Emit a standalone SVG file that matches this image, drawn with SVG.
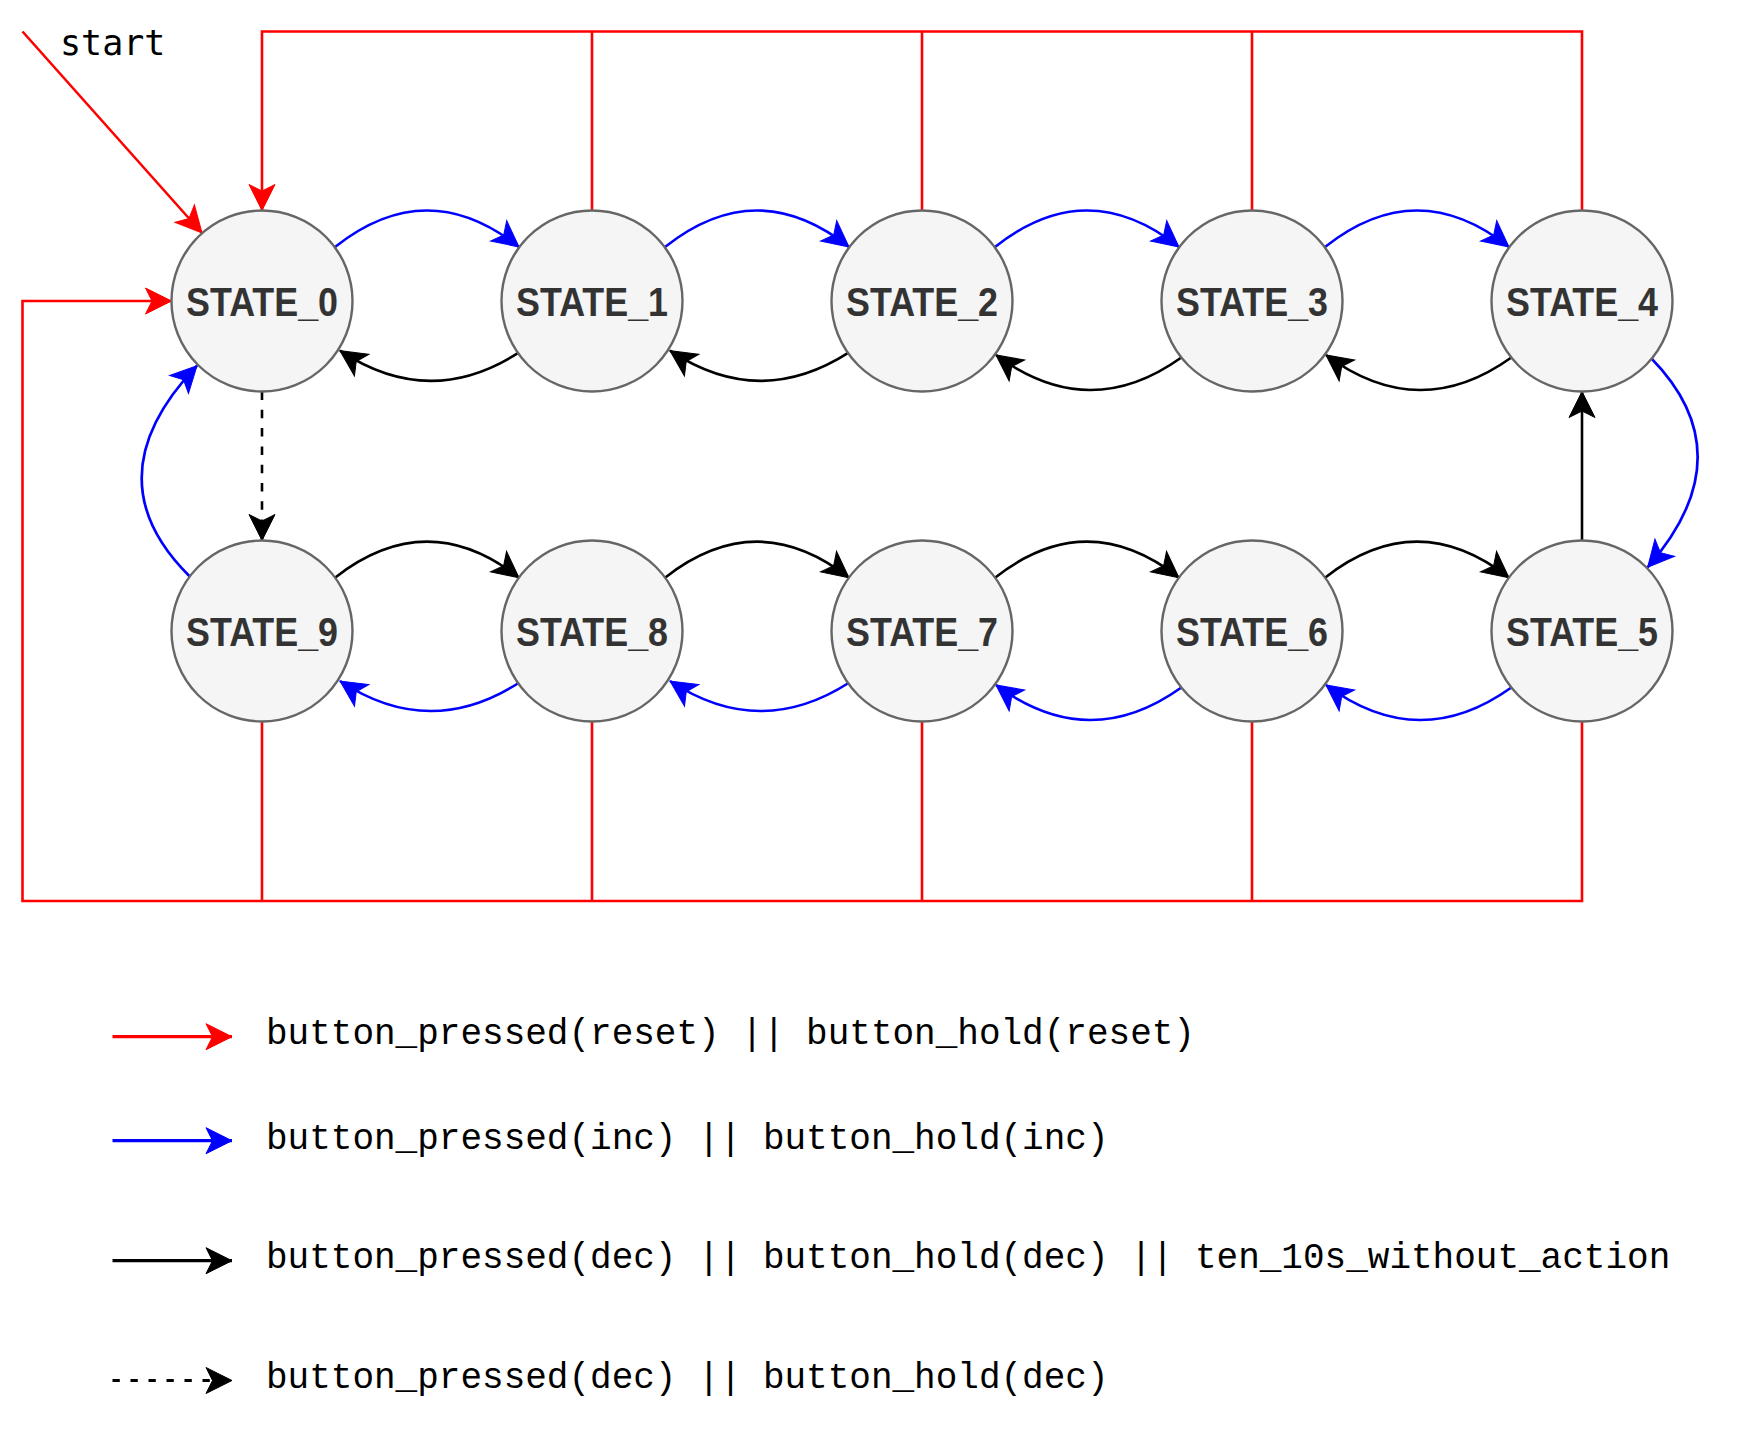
<svg xmlns="http://www.w3.org/2000/svg" width="1737" height="1431" viewBox="0 0 1737 1431">
<style>
.node circle{fill:#f5f5f5;stroke:#666666;stroke-width:2.4}
.node text{font-family:"Liberation Sans Narrow","Liberation Sans",Arial,sans-serif;font-weight:bold;font-size:41px;fill:#333333;text-anchor:middle}
.e{fill:none;stroke-width:2.6;stroke-linejoin:miter}
.r{stroke:#ff0000}
.b{stroke:#0000ff}
.k{stroke:#000000}
.ra{marker-end:url(#ar)}
.ba{marker-end:url(#ab)}
.ka{marker-end:url(#ak)}
.dash{stroke-dasharray:8.5 9.8}
.leg{font-family:"Liberation Mono","DejaVu Sans Mono",monospace;font-size:36px;fill:#000000}
.lg{fill:none;stroke-width:3.2}
</style>
<defs>
<marker id="ar" markerUnits="userSpaceOnUse" viewBox="-28 -15 30 30" refX="0" refY="0" markerWidth="30" markerHeight="30" orient="auto"><path d="M0,0 L-26,-13 L-19.5,0 L-26,13 Z" fill="#ff0000" stroke="#ff0000" stroke-width="1"/></marker>
<marker id="ab" markerUnits="userSpaceOnUse" viewBox="-28 -15 30 30" refX="0" refY="0" markerWidth="30" markerHeight="30" orient="auto"><path d="M0,0 L-26,-13 L-19.5,0 L-26,13 Z" fill="#0000ff" stroke="#0000ff" stroke-width="1"/></marker>
<marker id="ak" markerUnits="userSpaceOnUse" viewBox="-28 -15 30 30" refX="0" refY="0" markerWidth="30" markerHeight="30" orient="auto"><path d="M0,0 L-26,-13 L-19.5,0 L-26,13 Z" fill="#000000" stroke="#000000" stroke-width="1"/></marker>
</defs>
<rect width="1737" height="1431" fill="#ffffff"/>
<g id="connectors">
<path class="e r ra" d="M1582,210.5 V31.5 H262 V210.5"/>
<path class="e r" d="M592,210.5 V31.5"/>
<path class="e r" d="M922,210.5 V31.5"/>
<path class="e r" d="M1252,210.5 V31.5"/>
<path class="e r ra" d="M1582,721.5 V901 H22.5 V301 H171.5"/>
<path class="e r" d="M262,721.5 V901"/>
<path class="e r" d="M592,721.5 V901"/>
<path class="e r" d="M922,721.5 V901"/>
<path class="e r" d="M1252,721.5 V901"/>
<path class="e r ra" d="M22.5,31.5 L202,233"/>
<path class="e b ba" d="M335,247 Q427,174 519,247"/>
<path class="e b ba" d="M665,247 Q757,174 849,247"/>
<path class="e b ba" d="M995,247 Q1087,174 1179,247"/>
<path class="e b ba" d="M1325,247 Q1417,174 1509,247"/>
<path class="e k ka" d="M518.6,352.7 Q429,410 340,350.7"/>
<path class="e k ka" d="M848.6,352.7 Q759,410 670,350.7"/>
<path class="e k ka" d="M1181,357.7 Q1088.5,423.6 996,355"/>
<path class="e k ka" d="M1511,357.7 Q1418.5,423.6 1326,355"/>
<path class="e k ka" d="M335,577.7 Q427,505.7 519,577.7"/>
<path class="e k ka" d="M665,577.7 Q757,505.7 849,577.7"/>
<path class="e k ka" d="M995,577.7 Q1087,505.7 1179,577.7"/>
<path class="e k ka" d="M1325,577.7 Q1417,505.7 1509,577.7"/>
<path class="e b ba" d="M518.6,683 Q429,740 340,681"/>
<path class="e b ba" d="M848.6,683 Q759,740 670,681"/>
<path class="e b ba" d="M1181,687.7 Q1088.5,753.6 996,685"/>
<path class="e b ba" d="M1511,687.7 Q1418.5,753.6 1326,685"/>
<path class="e b ba" d="M190,576.7 Q90,478 197,365.7"/>
<path class="e b ba" d="M1651,358 Q1746,455 1647.6,567.3"/>
<path class="e k ka" d="M1582,540.5 V391.5"/>
<path class="e k ka dash" d="M262,391.5 V540.5"/>
</g>
<g id="state0" class="node"><circle cx="262" cy="301" r="90.5"/><text x="262" y="316" textLength="152" lengthAdjust="spacingAndGlyphs">STATE_0</text></g>
<g id="state1" class="node"><circle cx="592" cy="301" r="90.5"/><text x="592" y="316" textLength="152" lengthAdjust="spacingAndGlyphs">STATE_1</text></g>
<g id="state2" class="node"><circle cx="922" cy="301" r="90.5"/><text x="922" y="316" textLength="152" lengthAdjust="spacingAndGlyphs">STATE_2</text></g>
<g id="state3" class="node"><circle cx="1252" cy="301" r="90.5"/><text x="1252" y="316" textLength="152" lengthAdjust="spacingAndGlyphs">STATE_3</text></g>
<g id="state4" class="node"><circle cx="1582" cy="301" r="90.5"/><text x="1582" y="316" textLength="152" lengthAdjust="spacingAndGlyphs">STATE_4</text></g>
<g id="state9" class="node"><circle cx="262" cy="631" r="90.5"/><text x="262" y="646" textLength="152" lengthAdjust="spacingAndGlyphs">STATE_9</text></g>
<g id="state8" class="node"><circle cx="592" cy="631" r="90.5"/><text x="592" y="646" textLength="152" lengthAdjust="spacingAndGlyphs">STATE_8</text></g>
<g id="state7" class="node"><circle cx="922" cy="631" r="90.5"/><text x="922" y="646" textLength="152" lengthAdjust="spacingAndGlyphs">STATE_7</text></g>
<g id="state6" class="node"><circle cx="1252" cy="631" r="90.5"/><text x="1252" y="646" textLength="152" lengthAdjust="spacingAndGlyphs">STATE_6</text></g>
<g id="state5" class="node"><circle cx="1582" cy="631" r="90.5"/><text x="1582" y="646" textLength="152" lengthAdjust="spacingAndGlyphs">STATE_5</text></g>
<g id="start-label"><text x="60" y="54.5" font-family="'DejaVu Sans Mono','Liberation Mono',monospace" font-size="35" fill="#000000">start</text></g>
<g id="legend">
<path class="lg r ra" d="M112.5,1036.7 H232"/>
<text class="leg" x="266" y="1044">button_pressed(reset) || button_hold(reset)</text>
<path class="lg b ba" d="M112.5,1140.7 H232"/>
<text class="leg" x="266" y="1149">button_pressed(inc) || button_hold(inc)</text>
<path class="lg k ka" d="M112.5,1260.7 H232"/>
<text class="leg" x="266" y="1268">button_pressed(dec) || button_hold(dec) || ten_10s_without_action</text>
<path class="lg k ka" d="M112.5,1380.5 H232" stroke-dasharray="7.3 10.7"/>
<text class="leg" x="266" y="1388">button_pressed(dec) || button_hold(dec)</text>
</g>
</svg>
